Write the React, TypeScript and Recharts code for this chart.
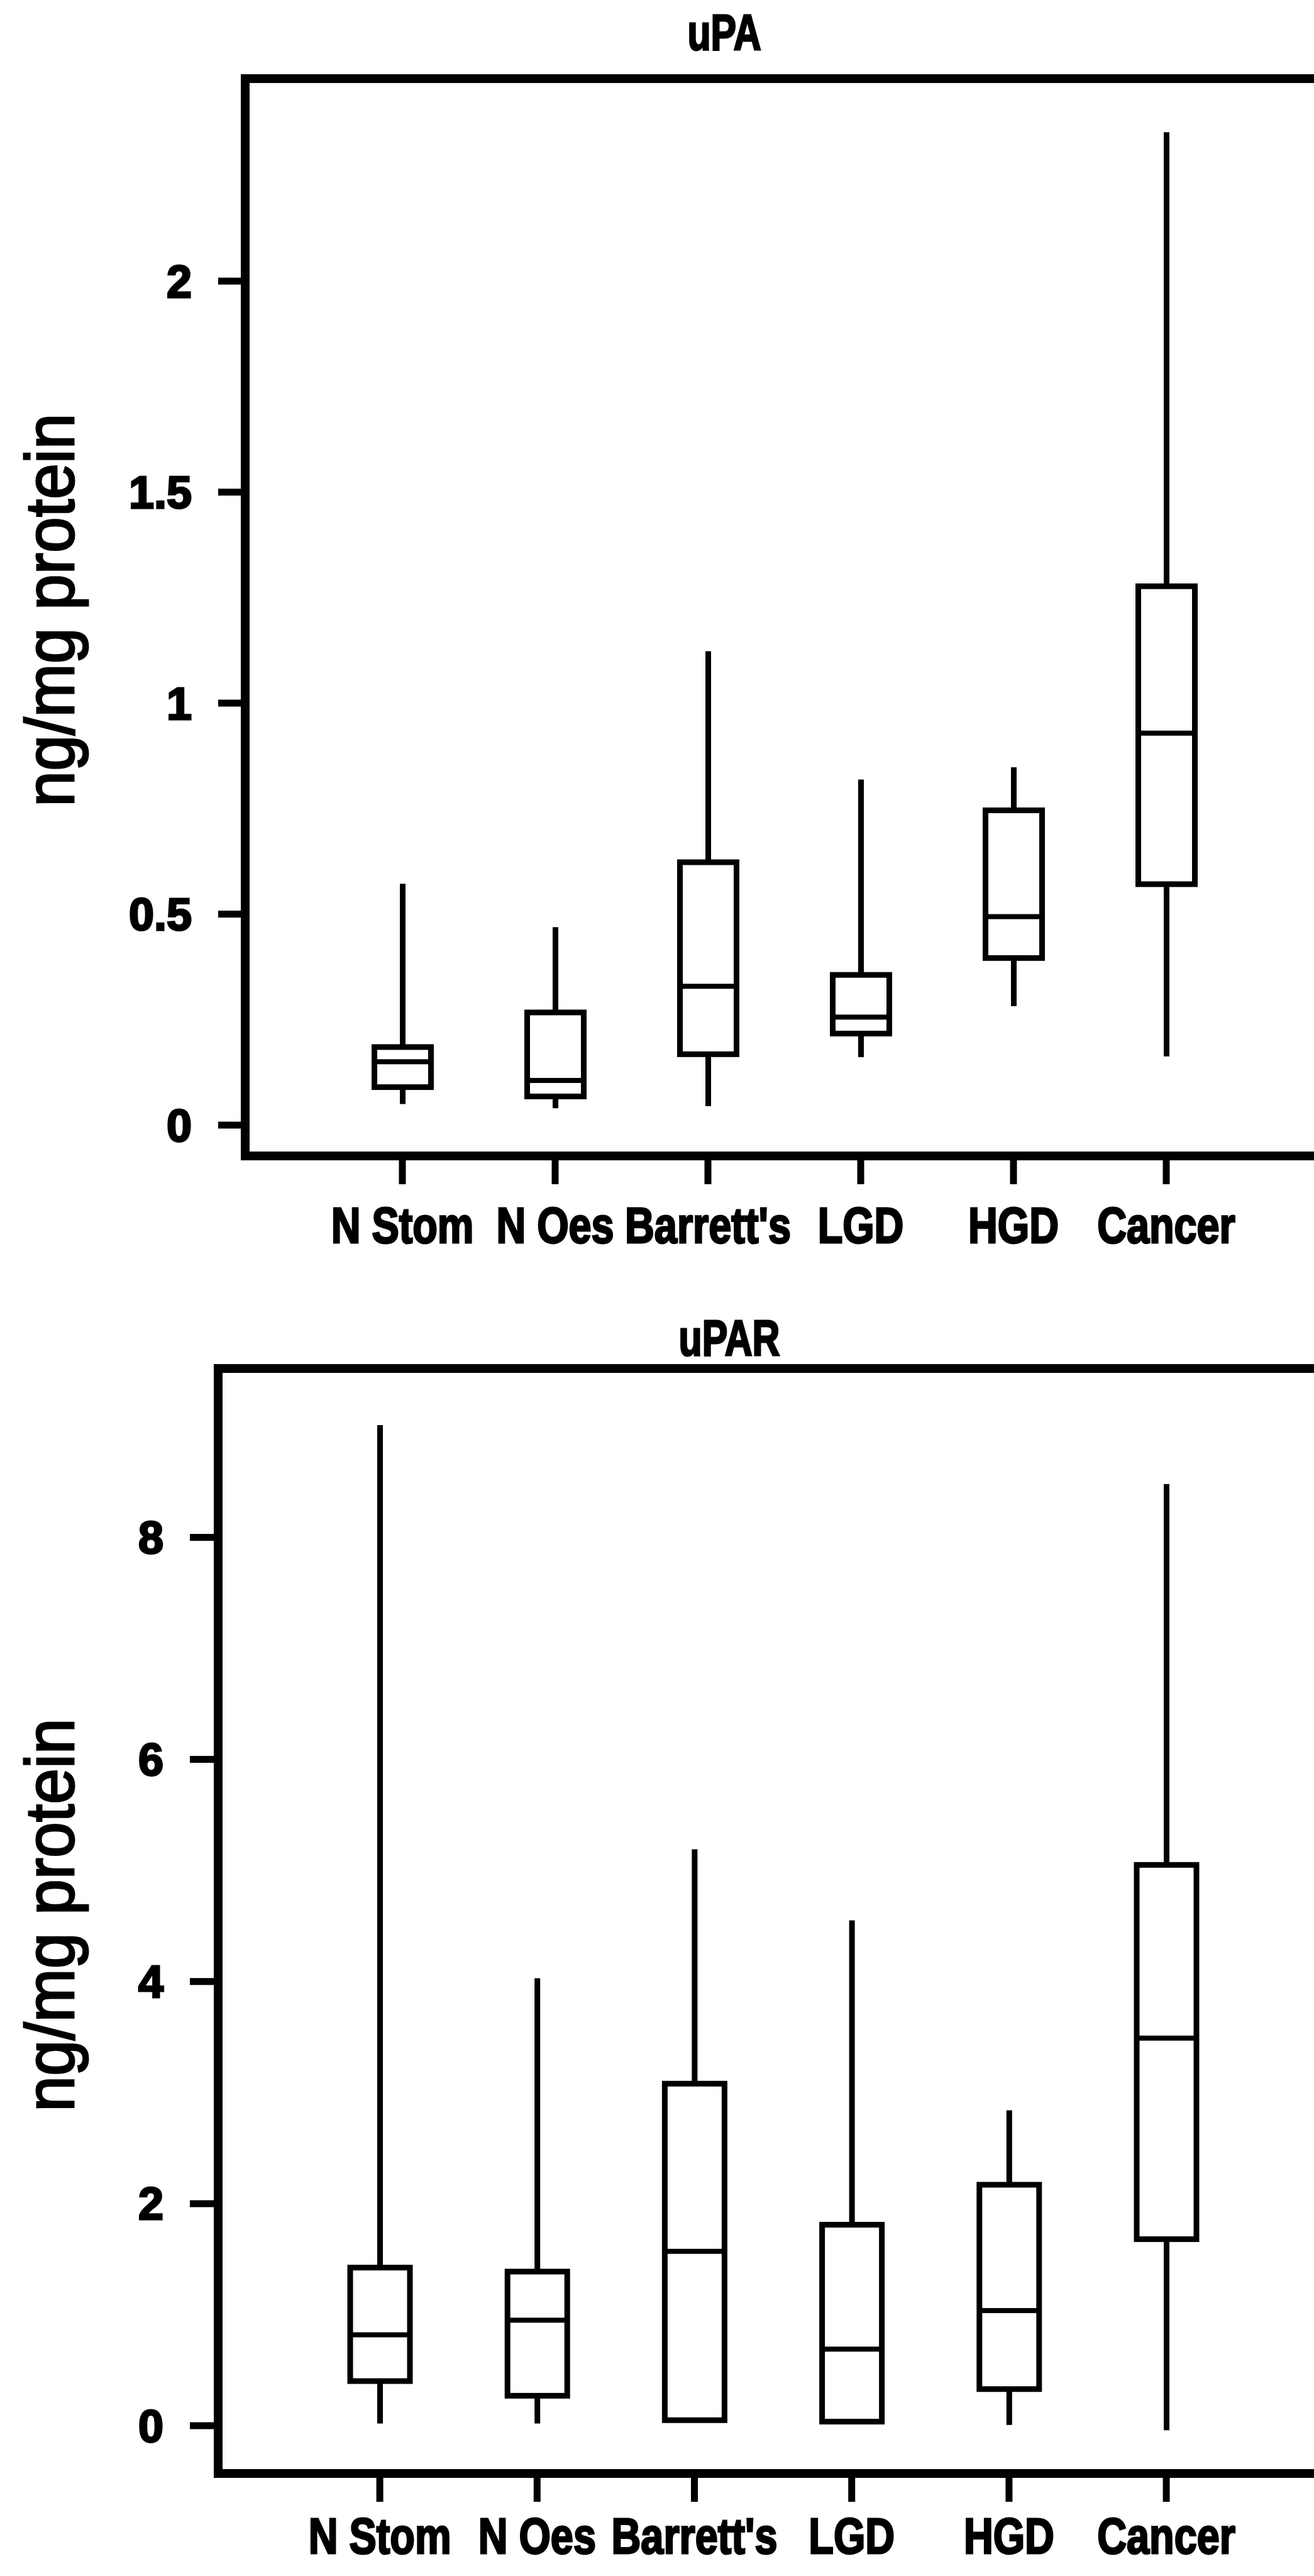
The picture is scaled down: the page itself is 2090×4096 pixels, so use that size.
import { ComposedChart, Bar, XAxis, YAxis, ReferenceLine } from "recharts";

const FONT = "'Liberation Sans', Arial, Helvetica, sans-serif";

const groups = ["N Stom", "N Oes", "Barrett's", "LGD", "HGD", "Cancer"];

// uPA (ng/mg protein)
const upaMin = [0.05, 0.04, 0.045, 0.161, 0.282, 0.163];
const upaQ1 = [0.09, 0.068, 0.168, 0.217, 0.396, 0.571];
const upaMedian = [0.15, 0.106, 0.329, 0.256, 0.494, 0.929];
const upaQ3 = [0.185, 0.267, 0.623, 0.356, 0.746, 1.277];
const upaMax = [0.572, 0.469, 1.123, 0.819, 0.848, 2.353];
const upaTicks = [0, 0.5, 1, 1.5, 2];

// uPAR (ng/mg protein)
const uparMin = [0.02, 0.02, 0.05, 0.03, 0.007, -0.04];
const uparQ1 = [0.402, 0.27, 0.05, 0.037, 0.33, 1.68];
const uparMedian = [0.818, 0.95, 1.57, 0.69, 1.037, 3.49];
const uparQ3 = [1.424, 1.388, 3.08, 1.81, 2.17, 5.05];
const uparMax = [9.01, 4.03, 5.19, 4.55, 2.84, 8.48];
const uparTicks = [0, 2, 4, 6, 8];

const buildRows = (
  mins: number[],
  q1s: number[],
  medians: number[],
  q3s: number[],
  maxs: number[]
) =>
  groups.map((name, i) => ({
    name,
    min: mins[i],
    q1: q1s[i],
    median: medians[i],
    q3: q3s[i],
    max: maxs[i],
    range: [mins[i], maxs[i]],
  }));

const upaRows = buildRows(upaMin, upaQ1, upaMedian, upaQ3, upaMax);
const uparRows = buildRows(uparMin, uparQ1, uparMedian, uparQ3, uparMax);

// box + whiskers, positioned from the range bar the library lays out
const BoxShape = (props: any) => {
  const { x, y, width, height, payload } = props;
  const top = Math.min(y, y + height);
  const bot = Math.max(y, y + height);
  const span = payload.max - payload.min;
  const py = (v: number) => bot - ((v - payload.min) / span) * (bot - top);
  const cx = x + width / 2;
  const sw = 9;
  return (
    <g>
      <line x1={cx} x2={cx} y1={py(payload.max)} y2={py(payload.q3)} stroke="#000" strokeWidth={sw} />
      <line x1={cx} x2={cx} y1={py(payload.q1)} y2={py(payload.min)} stroke="#000" strokeWidth={sw} />
      <rect
        x={x}
        y={py(payload.q3)}
        width={width}
        height={py(payload.q1) - py(payload.q3)}
        fill="#fff"
        stroke="#000"
        strokeWidth={sw}
      />
      <line x1={x} x2={x + width} y1={py(payload.median)} y2={py(payload.median)} stroke="#000" strokeWidth={8} />
    </g>
  );
};

const XTick = (props: any) => {
  const { x, y, payload } = props;
  return (
    <g transform={`translate(${x},${y})`}>
      <text
        x={0}
        y={0}
        dy={57}
        textAnchor="middle"
        transform="scale(0.81,1)"
        fontFamily={FONT}
        fontWeight={700}
        fontSize={80}
        fill="#000"
        stroke="#000"
        strokeWidth={3}
      >
        {payload.value}
      </text>
    </g>
  );
};

const Panel = (p: any) => (
  <div style={{ position: "absolute", left: 0, top: p.top }}>
    <ComposedChart width={2200} height={p.height} data={p.rows} margin={p.margin}>
      <XAxis
        dataKey="name"
        type="category"
        interval={0}
        height={p.xHeight}
        padding={{ left: p.padLeft, right: p.padRight }}
        axisLine={{ stroke: "#000", strokeWidth: 14, strokeLinecap: "square" }}
        tickLine={{ stroke: "#000", strokeWidth: 11 }}
        tickSize={45}
        tickMargin={p.xTickMargin}
        tick={<XTick />}
        label={{
          content: () => (
            <text
              transform={`translate(${p.titleX},${p.titleY}) scale(0.76,1)`}
              textAnchor="middle"
              fontFamily={FONT}
              fontWeight={700}
              fontSize={80}
              fill="#000"
              stroke="#000"
              strokeWidth={3}
            >
              {p.title}
            </text>
          ),
        }}
      />
      <YAxis
        type="number"
        domain={p.domain}
        ticks={p.ticks}
        allowDataOverflow
        interval={0}
        width={p.yWidth}
        axisLine={{ stroke: "#000", strokeWidth: 14, strokeLinecap: "square" }}
        tickLine={{ stroke: "#000", strokeWidth: 11 }}
        tickSize={p.yTickSize}
        tickMargin={42}
        tick={{ fill: "#000", stroke: "#000", strokeWidth: 3, fontSize: 72, fontWeight: 700, fontFamily: FONT }}
        label={{
          content: () => (
            <text
              transform={`translate(117,${p.labelY}) rotate(-90) scale(0.93,1)`}
              textAnchor="middle"
              fontFamily={FONT}
              fontSize={110}
              stroke="#000"
              strokeWidth={3}
              fill="#000"
            >
              ng/mg protein
            </text>
          ),
        }}
      />
      <ReferenceLine y={p.domain[1]} stroke="#000" strokeWidth={14} strokeLinecap="square" />
      <Bar
        dataKey="range"
        barSize={p.boxWidth}
        isAnimationActive={false}
        shape={(s: any) => <BoxShape {...s} />}
      />
    </ComposedChart>
  </div>
);

export default function App() {
  return (
    <div
      style={{
        position: "absolute",
        left: 0,
        top: 0,
        width: 2090,
        height: 4096,
        overflow: "hidden",
        background: "#fff",
      }}
    >
      <Panel
        title="uPA"
        rows={upaRows}
        domain={[-0.073, 2.48]}
        ticks={upaTicks}
        top={0}
        height={2040}
        margin={{ top: 125, right: 109, left: 0, bottom: 12 }}
        xHeight={190}
        padLeft={128.5}
        padRight={114.5}
        xTickMargin={36}
        yWidth={390}
        yTickSize={43}
        boxWidth={90}
        titleX={1152}
        titleY={79}
        labelY={970}
      />
      <Panel
        title="uPAR"
        rows={uparRows}
        domain={[-0.43, 9.52]}
        ticks={uparTicks}
        top={2040}
        height={2056}
        margin={{ top: 136, right: 103, left: 0, bottom: 13 }}
        xHeight={150}
        padLeft={132}
        padRight={116.8}
        xTickMargin={25}
        yWidth={347}
        yTickSize={45}
        boxWidth={95}
        titleX={1160}
        titleY={115}
        labelY={1005}
      />
    </div>
  );
}
